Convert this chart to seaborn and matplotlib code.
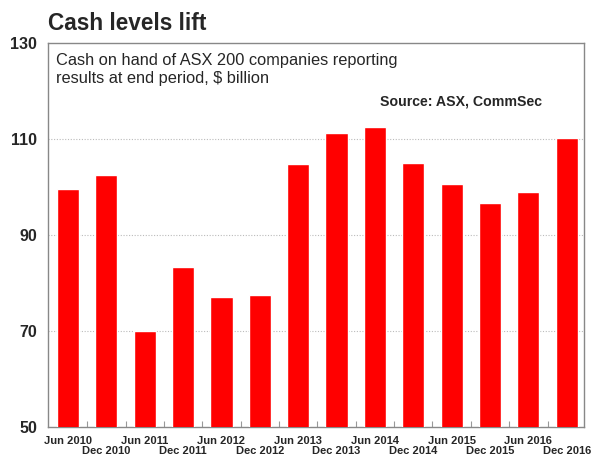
import matplotlib
matplotlib.use("Agg")
import matplotlib.pyplot as plt
import pandas as pd
import seaborn as sns

periods = ["Jun 2010", "Dec 2010", "Jun 2011", "Dec 2011", "Jun 2012", "Dec 2012",
           "Jun 2013", "Dec 2013", "Jun 2014", "Dec 2014", "Jun 2015", "Dec 2015",
           "Jun 2016", "Dec 2016"]
cash = [99.6, 102.4, 70.1, 83.3, 77.1, 77.5, 104.7, 111.2, 112.5, 105.0,
        100.7, 96.6, 99.0, 110.2]
y_ticks = [50, 70, 90, 110, 130]

df = pd.DataFrame({"period": periods, "cash": cash})

sns.set_style("white")
plt.rcParams["font.family"] = ["Liberation Sans", "DejaVu Sans"]

fig = plt.figure(figsize=(5.91, 4.59), dpi=100)
ax = fig.add_axes([48 / 591, 1 - 427 / 459, 536 / 591, 384 / 459])

sns.barplot(data=df, x="period", y="cash", color="#ff0000", saturation=1,
            width=0.58, ax=ax, zorder=3)

ax.set_ylim(50, 130)
ax.set_xlim(-0.52, 13.45)
ax.set_yticks(y_ticks)
ax.set_yticklabels([str(v) for v in y_ticks], fontsize=11.5, fontweight="bold")
ax.tick_params(axis="y", length=0, pad=8)

# Jun labels on the first row, Dec labels on the second row
n = len(periods)
ax.xaxis.remove_overlapping_locs = False
ax.set_xticks(range(0, n, 2))
ax.set_xticklabels(periods[0::2], fontsize=8, fontweight="bold")
ax.set_xticks(range(1, n, 2), minor=True)
ax.set_xticklabels(periods[1::2], minor=True, fontsize=8, fontweight="bold")
ax.tick_params(axis="x", which="major", length=0, pad=6.5)
ax.tick_params(axis="x", which="minor", length=0, pad=14)
ax.set_xlabel("")
ax.set_ylabel("")

# small separator ticks between bars
sec = ax.secondary_xaxis("bottom")
sec.set_xticks([i + 0.5 for i in range(n - 1)])
sec.set_xticklabels([])
sec.tick_params(axis="x", direction="in", length=4, color="#999999", width=0.8)
sec.spines["bottom"].set_visible(False)

for v in [70, 90, 110]:
    ax.axhline(v, color="#bbbbbb", linestyle=(0, (1, 1.5)), linewidth=0.8, zorder=1)

for s in ax.spines.values():
    s.set_color("#888888")
    s.set_linewidth(1.0)

fig.text(48 / 591, 1 - 23 / 459, "Cash levels lift", fontsize=16.3, fontweight="bold",
         va="center", ha="left")
fig.text(56 / 591, 1 - 53 / 459,
         "Cash on hand of ASX 200 companies reporting\nresults at end period, $ billion",
         fontsize=11.8, va="top", ha="left", linespacing=1.28)
fig.text(542 / 591, 1 - 101 / 459, "Source: ASX, CommSec", fontsize=10.2,
         fontweight="bold", va="center", ha="right")

fig.savefig("out.png", dpi=100)
